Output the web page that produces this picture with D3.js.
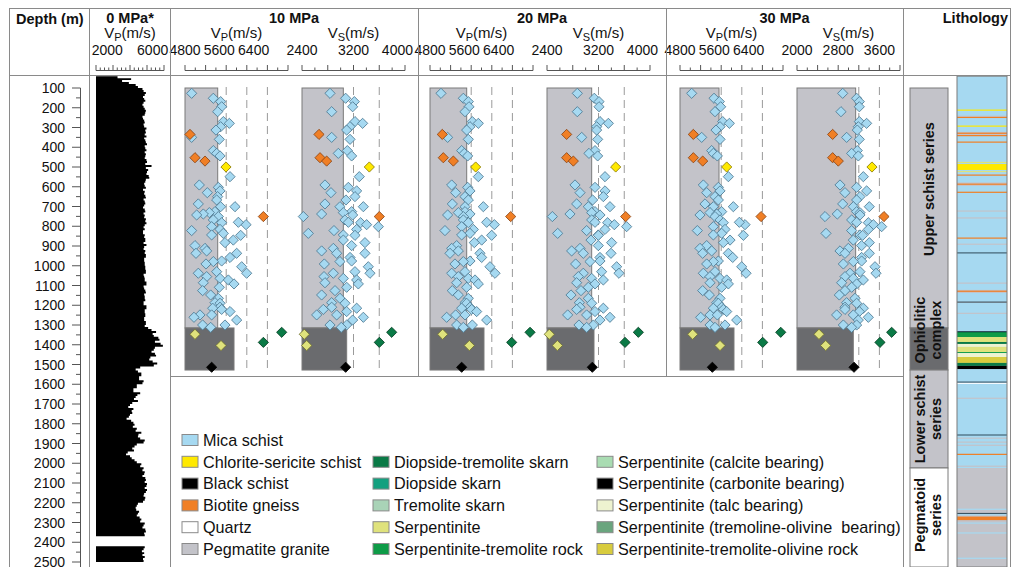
<!DOCTYPE html>
<html>
<head>
<meta charset="utf-8">
<script src="https://cdn.jsdelivr.net/npm/d3@7"></script>
<style>
body { margin: 0; background: #fff; }
text { font-family: "Liberation Sans", Arial, sans-serif; fill: #111; }
</style>
</head>
<body>
<svg id="chart" width="1015" height="567"></svg>
<script>
// ---- data ----
var pressures = ["10 MPa", "20 MPa", "30 MPa"];
var vpTickLabels = [4800, 5600, 6400];
var vsTickLabels = [[2400, 3200, 4000], [2400, 3200, 4000], [2000, 2800, 3600]];
var vpDomain = [4800, 7200];
var vsDomains = [[2400, 4000], [2400, 4000], [2000, 4000]];
var vpRefs = [5760, 6240, 6720];
var vsRefs = [3200, 3600];

// mica schist samples (depth m, velocities m/s)
var sampleDepth = [127,152,169,195,220,270,279,296,313,350,360,417,431,444,549,591,603,621,630,650,
  667,687,701,701,726,731,738,743,751,768,782,792,780,802,816,822,836,844,846,870,
  883,898,912,925,937,937,958,976,979,991,1005,1030,1038,1038,1055,1064,1072,1086,1092,1109,
  1126,1148,1165,1187,1190,1210,1215,1221,1232,1249,1249,1261,1275,1300,1300,1312];
var vp10 = [4955,5460,5631,5654,5561,5693,5833,5631,5522,4955,5600,5460,5538,5616,5849,5134,5577,5616,5320,5561,
  5538,5110,5631,5965,5499,5367,5227,5072,5577,5460,5654,6222,6043,5421,5616,4955,5693,5421,6097,5926,
  5732,5033,5266,5305,5056,6004,5849,5654,5460,5289,6121,5538,5110,6237,5305,5616,5810,5227,5942,5600,
  5211,5398,5577,5499,5616,5616,5445,5654,5849,5149,5421,5009,6004,5211,5732,5398];
var vs10 = [2835,3078,3213,3187,2861,3223,3342,3146,3094,2861,3146,3104,2964,3171,3290,2757,3120,3249,2850,3223,
  3083,2757,2990,3353,3171,3042,2705,3187,2421,3068,3311,3404,3120,3586,3249,2897,2498,3042,3223,3042,
  3378,3171,2887,2705,3378,2939,3146,3171,2990,2747,3430,3223,2887,3456,2742,3042,3249,2757,3275,3094,
  2913,2705,2990,2861,3068,2861,3249,2731,3094,2939,2628,3353,3187,3094,2835,3010];
var vp20 = [5056,5577,5693,5709,5616,5786,5926,5732,5654,5211,5693,5538,5600,5678,5926,5305,5678,5732,5398,5616,
  5693,5320,5616,6043,5616,5460,5732,5211,5577,5577,5693,6300,6121,5538,5810,5149,5732,5538,6237,6004,
  5833,5421,5305,5460,5266,5965,6004,5732,5577,5382,6198,5616,5305,6315,5460,5693,5849,5421,5926,5654,
  5320,5460,5693,5616,5654,5732,5538,5771,5887,5398,5616,5188,6121,5421,5786,5577];
var vs20 = [2871,3135,3208,3208,2871,3223,3353,3171,3171,2939,3187,3146,3052,3187,3301,2835,3146,3301,2913,3275,
  3109,2861,3042,3378,3146,3094,2757,3223,2483,3094,3342,3446,3146,3637,3301,3016,2566,3197,3197,3083,
  3404,3197,2913,2783,3394,2964,3223,3223,3068,2845,3482,3249,2964,3518,2887,3094,3275,2861,3146,3042,
  2928,2773,3042,2902,3094,2913,3275,2861,3146,3016,2721,3378,3223,3120,2897,3016];
var vp30 = [5072,5593,5717,5748,5616,5795,5950,5733,5639,5305,5733,5538,5577,5670,5927,5344,5694,5733,5422,5616,
  5694,5383,5577,6043,5771,5500,5655,5266,5616,5733,5810,6315,6183,5577,5849,5204,5771,5577,6277,5966,
  5810,5422,5266,5538,5329,5927,6028,5694,5577,5422,6238,5616,5344,6339,5500,5733,5888,5500,5927,5771,
  5329,5484,5733,5655,5694,5771,5577,5810,5888,5500,5670,5282,6121,5500,5849,5616];
var vs30 = [2887,3158,3210,3210,2854,3210,3352,3191,3171,2964,3210,3171,3061,3191,3288,2835,3158,3352,2932,3223,
  3158,2887,3094,3404,3158,3223,2783,3223,2544,3061,3385,3482,3158,3644,3385,3061,2563,3223,3275,3094,
  3404,3255,2997,2835,3404,2932,3255,3255,3094,2900,3514,3223,3029,3534,2932,3094,3288,2867,3158,3061,
  2932,2822,3126,2964,3158,2932,3288,2932,3210,3094,2770,3385,3191,3158,2900,3061];

// other lithologies
var otherLith = ["Biotite gneiss","Biotite gneiss","Biotite gneiss","Biotite gneiss","Chlorite-sericite schist",
  "Serpentinite","Serpentinite","Diopside-tremolite skarn","Diopside-tremolite skarn","Serpentinite (carbonite bearing)"];
var otherDepth = [335, 453, 470, 751, 500, 1347, 1404, 1337, 1388, 1514];
var otherVp10 = [4916, 5033, 5266, 6626, 5755, 5033, 5639, 7053, 6626, 5421];
var otherVs10 = [2664, 2680, 2783, 3601, 3446, 2436, 2473, 3793, 3601, 3078];
var otherVp20 = [5087, 5110, 5344, 6680, 5864, 5095, 5717, 7131, 6703, 5538];
var otherVs20 = [2705, 2705, 2809, 3622, 3467, 2436, 2561, 3819, 3612, 3104];
var otherVp30 = [5111, 5111, 5329, 6688, 5888, 5095, 5733, 7147, 6727, 5554];
var otherVs30 = [2692, 2692, 2802, 3689, 3456, 2427, 2557, 3838, 3611, 3107];

// mean bars: upper schist series (100-1315 m) and ophiolitic complex (1315-1528 m)
var barDepths = [[100, 1315], [1315, 1528]];
var upperVp = [5562, 5655, 5709];
var ophVp = [5942, 6058, 6058];
var upperVs = [3042, 3094, 3139];
var ophVs = [3094, 3130, 3093];

// 0 MPa sonic log, 10 m samples from 40 m
var logTop = 40, logStep = 10;
var logVp = [
  3600,2900,4100,3300,3900,4500,4700,5100,5200,5400,5300,5150,5250,5350,5200,5100,5200,5300,5400,5350,
  5300,5100,5150,5250,5300,5200,5250,5450,5350,5400,5300,5450,5250,5350,5400,5500,5300,5350,5450,5300,
  5400,5350,5300,5450,5500,5350,5900,5400,5600,5500,5450,5650,5700,5400,5350,5250,5300,5400,5150,5300,
  5250,5350,5400,5200,5300,5350,5250,5150,5300,5350,5200,5300,5250,5400,5350,5450,5300,5200,5300,5150,
  5150,5300,5250,5350,5350,5200,5450,5250,5200,5350,5300,5400,5400,5250,5250,5300,5300,5350,5350,5400,
  5400,5200,5250,5300,5300,5450,5450,5200,5250,5350,5400,5250,5300,5300,5350,5200,5200,5450,5450,5300,
  5300,5350,5350,5250,5250,5400,5400,5300,5600,5900,6300,6000,6100,6500,6600,6200,6700,6900,6200,6100,
  5900,6200,6300,5800,5700,6000,6400,6100,4900,4500,4700,5000,5000,4800,4800,5200,5100,4600,4600,4300,
  4300,4900,4650,4500,4350,4700,4200,4000,3850,4300,4150,4200,4000,3900,3700,4100,4300,4400,4250,4600,
  4500,5000,4750,4700,4900,5300,5200,4600,4400,4200,4350,3800,3650,4000,4150,4400,4600,5000,4900,5200,
  5100,5300,5250,5100,5350,5400,5300,5500,5450,5300,5500,5400,5250,5200,5350,5300,5150,4700,4600,4500,
  4550,4800,4700,4600,4850,5000,4900,5300,5200,5100,5350,5400,5250,5300,null,null,null,null,5100,5300,
  5200,5050,5250,5100,5300,5150,5200];

// stratigraphic units
var unitNames = [["Upper schist series"], ["Ophiolitic", "complex"], ["Lower schist", "series"], ["Pegmatoid", "series"]];
var unitTop = [100, 1315, 1528, 2024];
var unitBottom = [1315, 1528, 2024, 2560];
var unitShade = ["light", "dark", "light", "white"];

// lithology column bands [top, bottom, lithology]
var lithBands = [
  [40, 2024, "Mica schist"], [2024, 2560, "Pegmatite granite"],
  [209, 213, "Chlorite-sericite schist"], [240, 246, "Pegmatite granite"], [246, 250, "Biotite gneiss"],
  [290, 295, "Chlorite-sericite schist"], [322, 344, "Pegmatite granite"], [326, 329, "Biotite gneiss"],
  [338, 341, "Biotite gneiss"], [371, 375, "Biotite gneiss"], [474, 477, "Serpentinite"],
  [485, 515, "Chlorite-sericite schist"], [520, 524, "Serpentinite"], [538, 542, "Biotite gneiss"],
  [578, 596, "Pegmatite granite"], [584, 588, "Biotite gneiss"], [625, 629, "Biotite gneiss"],
  [720, 726, "Pegmatite granite"], [755, 761, "Pegmatite granite"], [857, 861, "Biotite gneiss"],
  [888, 893, "Pegmatite granite"], [1085, 1090, "Pegmatite granite"], [1122, 1138, "Pegmatite granite"],
  [1126, 1131, "Biotite gneiss"], [1182, 1187, "Pegmatite granite"], [1238, 1241, "Pegmatite granite"],
  [1335, 1340, "Diopside-tremolite skarn"], [1340, 1361, "Serpentinite-tremolite rock"],
  [1361, 1386, "Serpentinite"], [1386, 1396, "Diopside-tremolite skarn"], [1396, 1411, "Serpentinite (talc bearing)"],
  [1411, 1437, "Serpentinite"], [1437, 1442, "Serpentinite-tremolite rock"], [1442, 1462, "Serpentinite (talc bearing)"],
  [1462, 1492, "Serpentinite-tremolite-olivine rock"], [1492, 1507, "Diopside-tremolite skarn"],
  [1507, 1523, "Serpentinite (carbonite bearing)"], [1592, 1596, "Quartz"], [1668, 1673, "Pegmatite granite"],
  [1870, 1874, "Pegmatite granite"], [1890, 1894, "Pegmatite granite"], [1906, 1910, "Pegmatite granite"],
  [1952, 1956, "Biotite gneiss"], [2012, 2017, "Pegmatite granite"],
  [2230, 2236, "Mica schist"], [2258, 2262, "Mica schist"], [2270, 2288, "Biotite gneiss"],
  [2300, 2306, "Mica schist"], [2350, 2356, "Mica schist"], [2478, 2484, "Mica schist"]
];
var lithBoundaries = [935, 1184, 1333, 1589, 1857, 2254];

var legendNames = ["Mica schist", "Chlorite-sericite schist", "Black schist", "Biotite gneiss", "Quartz", "Pegmatite granite",
  "Diopside-tremolite skarn", "Diopside skarn", "Tremolite skarn", "Serpentinite", "Serpentinite-tremolite rock",
  "Serpentinite (calcite bearing)", "Serpentinite (carbonite bearing)", "Serpentinite (talc bearing)",
  "Serpentinite (tremoline-olivine  bearing)", "Serpentinite-tremolite-olivine rock"];

// ---- styles ----
var lithColor = {
  "Mica schist": "#a6d9f1", "Chlorite-sericite schist": "#ffe900", "Black schist": "#000000",
  "Biotite gneiss": "#f07f25", "Quartz": "#ffffff", "Pegmatite granite": "#c3c3c9",
  "Diopside-tremolite skarn": "#0a7a46", "Diopside skarn": "#13a07f", "Tremolite skarn": "#a9d3b7",
  "Serpentinite": "#dfe27c", "Serpentinite-tremolite rock": "#0e9b47",
  "Serpentinite (calcite bearing)": "#a9dcb2", "Serpentinite (carbonite bearing)": "#000000",
  "Serpentinite (talc bearing)": "#eef3d0", "Serpentinite (tremoline-olivine  bearing)": "#6aa57e",
  "Serpentinite-tremolite-olivine rock": "#d8cc3e"
};
var shadeColor = { light: "#c3c3c9", dark: "#6a6b6e", white: "#ffffff" };
var frameColor = "#8a8a8a";

var svg = d3.select("#chart");
var y = d3.scaleLinear().domain([100, 2500]).range([88, 562]);

function hline(x1, x2, yy) {
  svg.append("line").attr("x1", x1).attr("x2", x2).attr("y1", yy).attr("y2", yy)
    .attr("stroke", frameColor).attr("stroke-width", 1);
}
function vline(xx, y1, y2) {
  svg.append("line").attr("x1", xx).attr("x2", xx).attr("y1", y1).attr("y2", y2)
    .attr("stroke", frameColor).attr("stroke-width", 1);
}

// ---- header axis helper ----
function topAxis(scale, step, majorStep, labels) {
  var d = scale.domain();
  var ticks = d3.range(d[0], d[1] + 1, step);
  var g = svg.append("g");
  g.append("line").attr("x1", scale(d[0])).attr("x2", scale(d[1])).attr("y1", 70.5).attr("y2", 70.5)
    .attr("stroke", "#555");
  g.selectAll("line.tk").data(ticks).enter().append("line").attr("class", "tk")
    .attr("x1", function(v) { return scale(v); }).attr("x2", function(v) { return scale(v); })
    .attr("y1", function(v) { return (v - d[0]) % majorStep === 0 ? 65 : 67.5; }).attr("y2", 70.5)
    .attr("stroke", "#555");
  // a label at the domain end is pulled inside, as in the original header
  g.selectAll("text").data(labels).enter().append("text")
    .attr("x", function(v) { return v === d[1] ? scale(v) + 8 : scale(v); }).attr("y", 55)
    .attr("text-anchor", function(v) { return v === d[1] ? "end" : "middle"; })
    .style("font-size", "14px").text(function(v) { return v; });
}
function velLabel(xx, sub) {
  var t = svg.append("text").attr("x", xx).attr("y", 38).attr("text-anchor", "middle").style("font-size", "15px");
  t.append("tspan").text("V");
  t.append("tspan").attr("dy", 3).style("font-size", "11px").text(sub);
  t.append("tspan").attr("dy", -3).text("(m/s)");
}
function boldText(xx, yy, s, anchor) {
  svg.append("text").attr("x", xx).attr("y", yy).attr("text-anchor", anchor || "middle")
    .style("font-size", "14.5px").style("font-weight", "bold").text(s);
}

// ---- depth column ----
boldText(16, 24, "Depth (m)", "start");
var depthTicks = d3.range(100, 2501, 50);
svg.append("line").attr("x1", 80.5).attr("x2", 80.5).attr("y1", y(100)).attr("y2", 567).attr("stroke", "#555");
svg.selectAll("line.dt").data(depthTicks).enter().append("line").attr("class", "dt")
  .attr("x1", function(v) { return v % 100 === 0 ? 72 : 76; }).attr("x2", 80.5)
  .attr("y1", function(v) { return y(v); }).attr("y2", function(v) { return y(v); })
  .attr("stroke", "#555");
svg.selectAll("text.dl").data(depthTicks.filter(function(v) { return v % 100 === 0; })).enter()
  .append("text").attr("class", "dl")
  .attr("x", 65).attr("y", function(v) { return y(v); }).attr("dy", "0.36em")
  .attr("text-anchor", "end").style("font-size", "14px").text(function(v) { return v; });

// ---- 0 MPa log ----
boldText(130, 23, "0 MPa*");
velLabel(130, "P");
var x0 = d3.scaleLinear().domain([1000, 7000]).range([96, 164]);
topAxis(x0, 375, 1500, [2000, 6000]);
var logData = logVp.map(function(v, i) { return { d: logTop + i * logStep, v: v }; });
svg.append("path").datum(logData)
  .attr("d", d3.area().defined(function(p) { return p.v !== null; })
    .y(function(p) { return y(p.d); }).x0(x0(1000)).x1(function(p) { return x0(p.v); })
    .curve(d3.curveStepAfter))
  .attr("fill", "#000");

// ---- pressure panels ----
var colLeft = [170, 418, 666], colRight = [418, 666, 903];
var vpLeft = [185, 430, 680], vsLeft = [302, 547, 797], axW = 103;
var vpSets = [vp10, vp20, vp30], vsSets = [vs10, vs20, vs30];
var otherVpSets = [otherVp10, otherVp20, otherVp30], otherVsSets = [otherVs10, otherVs20, otherVs30];
var diamond = d3.symbol().type(d3.symbolSquare).size(52);
var strokeFor = { "Mica schist": "#4d7891", "Biotite gneiss": "#8a4415", "Chlorite-sericite schist": "#8a7a00",
  "Serpentinite": "#6f7030", "Diopside-tremolite skarn": "#053d22", "Serpentinite (carbonite bearing)": "#000" };

function drawPanel(scale, refs, means, vals, oVals) {
  var g = svg.append("g");
  g.selectAll("line.ref").data(refs).enter().append("line").attr("class", "ref")
    .attr("x1", function(v) { return scale(v); }).attr("x2", function(v) { return scale(v); })
    .attr("y1", 87).attr("y2", 370).attr("stroke", "#9a9a9a").attr("stroke-dasharray", "8,5");
  g.selectAll("rect").data(means).enter().append("rect")
    .attr("x", scale.range()[0]).attr("y", function(m) { return y(m.top); })
    .attr("width", function(m) { return scale(m.v) - scale.range()[0]; })
    .attr("height", function(m) { return y(m.bottom) - y(m.top); })
    .attr("fill", function(m) { return m.fill; }).attr("stroke", "#7a7a7a");
  var pts = sampleDepth.map(function(d, i) { return { d: d, v: vals[i], lith: "Mica schist" }; })
    .concat(otherDepth.map(function(d, i) { return { d: d, v: oVals[i], lith: otherLith[i] }; }));
  g.selectAll("path").data(pts).enter().append("path")
    .attr("d", diamond)
    .attr("transform", function(p) { return "translate(" + scale(p.v) + "," + y(p.d) + ") rotate(45)"; })
    .attr("fill", function(p) { return lithColor[p.lith]; })
    .attr("stroke", function(p) { return strokeFor[p.lith]; }).attr("stroke-width", 0.8);
}

pressures.forEach(function(p, k) {
  boldText((colLeft[k] + colRight[k]) / 2, 23, p);
  var xvp = d3.scaleLinear().domain(vpDomain).range([vpLeft[k], vpLeft[k] + axW]);
  var xvs = d3.scaleLinear().domain(vsDomains[k]).range([vsLeft[k], vsLeft[k] + axW]);
  velLabel(vpLeft[k] + axW / 2, "P");
  velLabel(vsLeft[k] + axW / 2, "S");
  topAxis(xvp, 240, 480, vpTickLabels);
  topAxis(xvs, 200, 400, vsTickLabels[k]);
  drawPanel(xvp, vpRefs, [
    { top: barDepths[0][0], bottom: barDepths[0][1], v: upperVp[k], fill: shadeColor.light },
    { top: barDepths[1][0], bottom: barDepths[1][1], v: ophVp[k], fill: shadeColor.dark }
  ], vpSets[k], otherVpSets[k]);
  drawPanel(xvs, vsRefs, [
    { top: barDepths[0][0], bottom: barDepths[0][1], v: upperVs[k], fill: shadeColor.light },
    { top: barDepths[1][0], bottom: barDepths[1][1], v: ophVs[k], fill: shadeColor.dark }
  ], vsSets[k], otherVsSets[k]);
});

// ---- lithology column ----
boldText(1008, 23, "Lithology", "end");
var ug = svg.append("g");
unitNames.forEach(function(lines, i) {
  var top = y(unitTop[i]), bot = Math.min(y(unitBottom[i]), 567);
  ug.append("rect").attr("x", 910).attr("y", top).attr("width", 38).attr("height", bot - top)
    .attr("fill", shadeColor[unitShade[i]]).attr("stroke", "#7a7a7a");
});
unitNames.forEach(function(lines, i) {
  var top = y(unitTop[i]), bot = Math.min(y(unitBottom[i]), 567);
  var cy = (top + bot) / 2;
  if (i === 0) cy = 189;
  if (i === 1) cy = 330;
  if (i === 3) cy = 515;
  lines.forEach(function(s, j) {
    var bx = lines.length === 1 ? 934 : (j === 0 ? 925 : 941);
    ug.append("text").attr("transform", "translate(" + bx + "," + cy + ") rotate(-90)")
      .attr("text-anchor", "middle").style("font-size", "14.5px").style("font-weight", "bold").text(s);
  });
});
var lg = svg.append("g");
lg.selectAll("rect").data(lithBands).enter().append("rect")
  .attr("x", 957).attr("width", 50)
  .attr("y", function(b) { return y(b[0]); })
  .attr("height", function(b) { return Math.max(1.2, Math.min(y(b[1]), 567) - y(b[0])); })
  .attr("fill", function(b) { return lithColor[b[2]]; });
lg.selectAll("line").data(lithBoundaries).enter().append("line")
  .attr("x1", 957).attr("x2", 1007)
  .attr("y1", function(d) { return y(d); }).attr("y2", function(d) { return y(d); })
  .attr("stroke", "#2e4a5a").attr("stroke-width", 1);
lg.append("rect").attr("x", 957).attr("y", y(40)).attr("width", 50).attr("height", 567 - y(40))
  .attr("fill", "none").attr("stroke", "#7a7a7a");

// ---- legend ----
svg.append("clipPath").attr("id", "legClip").append("rect").attr("x", 170).attr("y", 376).attr("width", 733).attr("height", 191);
var leg = svg.append("g").attr("clip-path", "url(#legClip)");
var colX = [182, 373, 597];
legendNames.forEach(function(name, i) {
  var col = i < 6 ? 0 : (i < 11 ? 1 : 2);
  var row = i < 6 ? i : (i < 11 ? i - 5 : i - 10);
  var cy = 440 + row * 21.8;
  leg.append("rect").attr("x", colX[col]).attr("y", cy - 5.5).attr("width", 16).attr("height", 11)
    .attr("fill", lithColor[name]).attr("stroke", "#8a8a8a");
  leg.append("text").attr("x", colX[col] + 21).attr("y", cy).attr("dy", "0.36em")
    .style("font-size", "16.2px").style("white-space", "pre").text(name);
});

// ---- frame ----
hline(9, 1011, 8.5);
hline(9, 1011, 75.5);
hline(170, 903, 376.5);
vline(9.5, 8, 567);
vline(89.5, 8, 567);
vline(170.5, 8, 567);
vline(418.5, 8, 376);
vline(666.5, 8, 376);
vline(903.5, 8, 567);
vline(1010.5, 8, 567);
</script>
</body>
</html>
